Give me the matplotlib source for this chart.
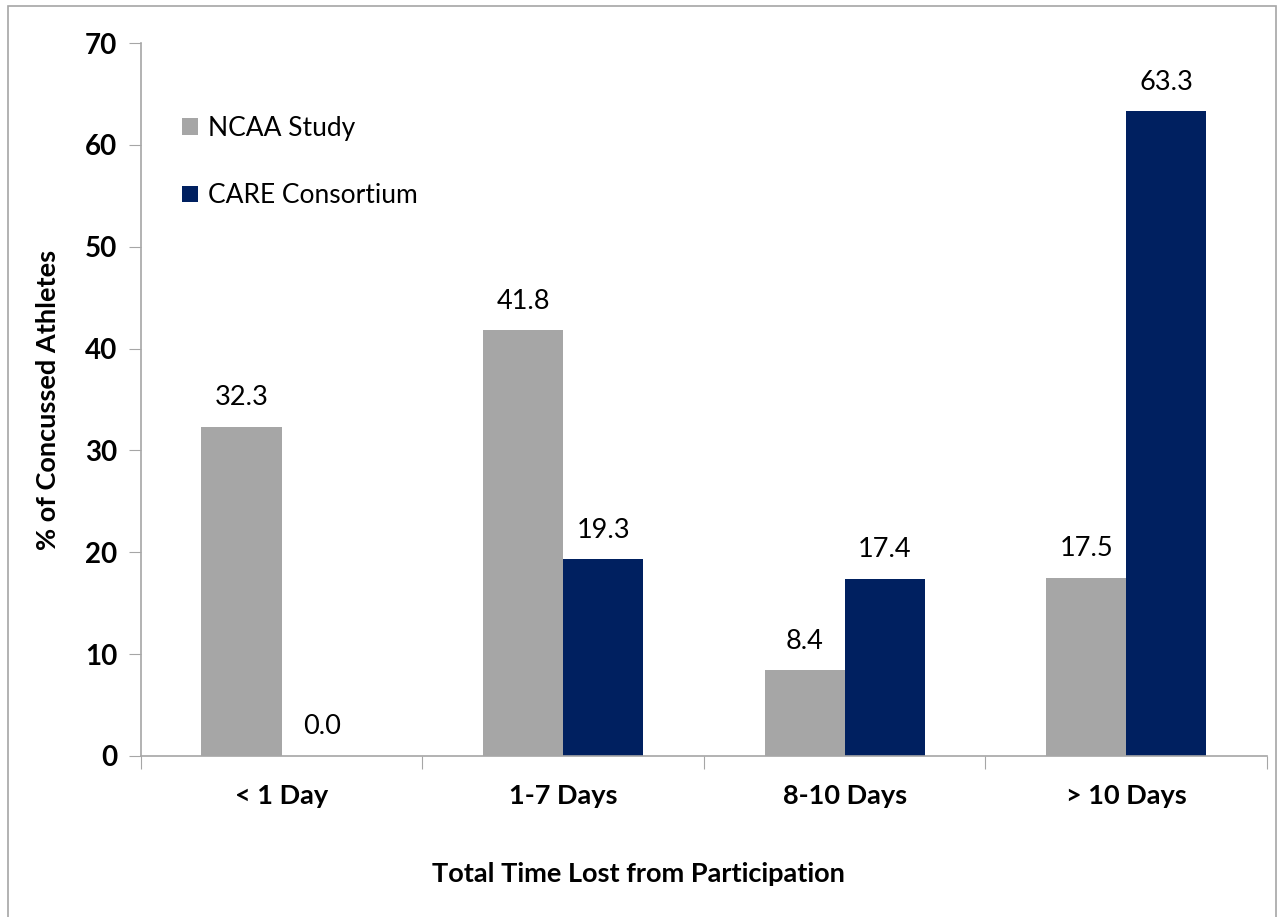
import numpy as np
import matplotlib.pyplot as plt
from matplotlib.patches import Rectangle

plt.rcParams['font.family'] = ['Lato', 'DejaVu Sans']

categories = ['< 1 Day', '1-7 Days', '8-10 Days', '> 10 Days']
ncaa = [32.3, 41.8, 8.4, 17.5]
care = [0.0, 19.3, 17.4, 63.3]

indices = np.arange(len(categories))
width = 0.285

fig = plt.figure(figsize=(12.78, 9.17), dpi=100)
ax = fig.add_axes([0.1103, 0.1756, 0.8811, 0.7775])

# outer chart frame
fig.patches.append(Rectangle((8 / 1278, -0.05), 1268 / 1278, 1.05 - 6 / 917,
                             transform=fig.transFigure, fill=False,
                             edgecolor='#a6a6a6', linewidth=1.2))

b1 = ax.bar(indices - width / 2, ncaa, width, color='#a6a6a6', label='NCAA Study')
b2 = ax.bar(indices + width / 2, care, width, color='#002060', label='CARE Consortium')

for bars, vals in ((b1, ncaa), (b2, care)):
    for rect, v in zip(bars, vals):
        ax.text(rect.get_x() + rect.get_width() / 2, v + 2.85, f'{v:.1f}',
                ha='center', va='center', fontsize=19.5)

ax.set_xlim(-0.5, 3.5)
ax.set_ylim(0, 70)
ax.set_yticks(range(0, 71, 10))
ax.set_xticks(np.arange(-0.5, 3.6, 1.0), minor=False)
ax.set_xticklabels([])
ax.set_xticks(indices, minor=True)
ax.set_xticklabels(categories, minor=True, fontsize=19.5, fontweight='bold')
ax.tick_params(axis='x', which='minor', length=0, pad=20)
ax.tick_params(axis='x', which='major', length=9, color='#a6a6a6', direction='out')
ax.tick_params(axis='y', length=9, color='#a6a6a6', direction='out', pad=8,
               labelsize=20)
for lbl in ax.get_yticklabels():
    lbl.set_fontweight('bold')

for side in ('top', 'right'):
    ax.spines[side].set_visible(False)
for side in ('left', 'bottom'):
    ax.spines[side].set_color('#a6a6a6')
    ax.spines[side].set_linewidth(1.2)

ax.set_ylabel('% of Concussed Athletes', fontsize=19.5, fontweight='bold', labelpad=18)
ax.set_xlabel('Total Time Lost from Participation', fontsize=19.5, fontweight='bold')
# x title sits at the centre of the whole chart frame
ax.xaxis.set_label_coords(0.442, -0.149)

ax.legend(loc='upper left', bbox_to_anchor=(0.027, 0.913), frameon=False,
          fontsize=19, handlelength=0.6, handleheight=0.6, handletextpad=0.4,
          labelspacing=1.62, borderaxespad=0)

plt.savefig('out.png', dpi=100)
